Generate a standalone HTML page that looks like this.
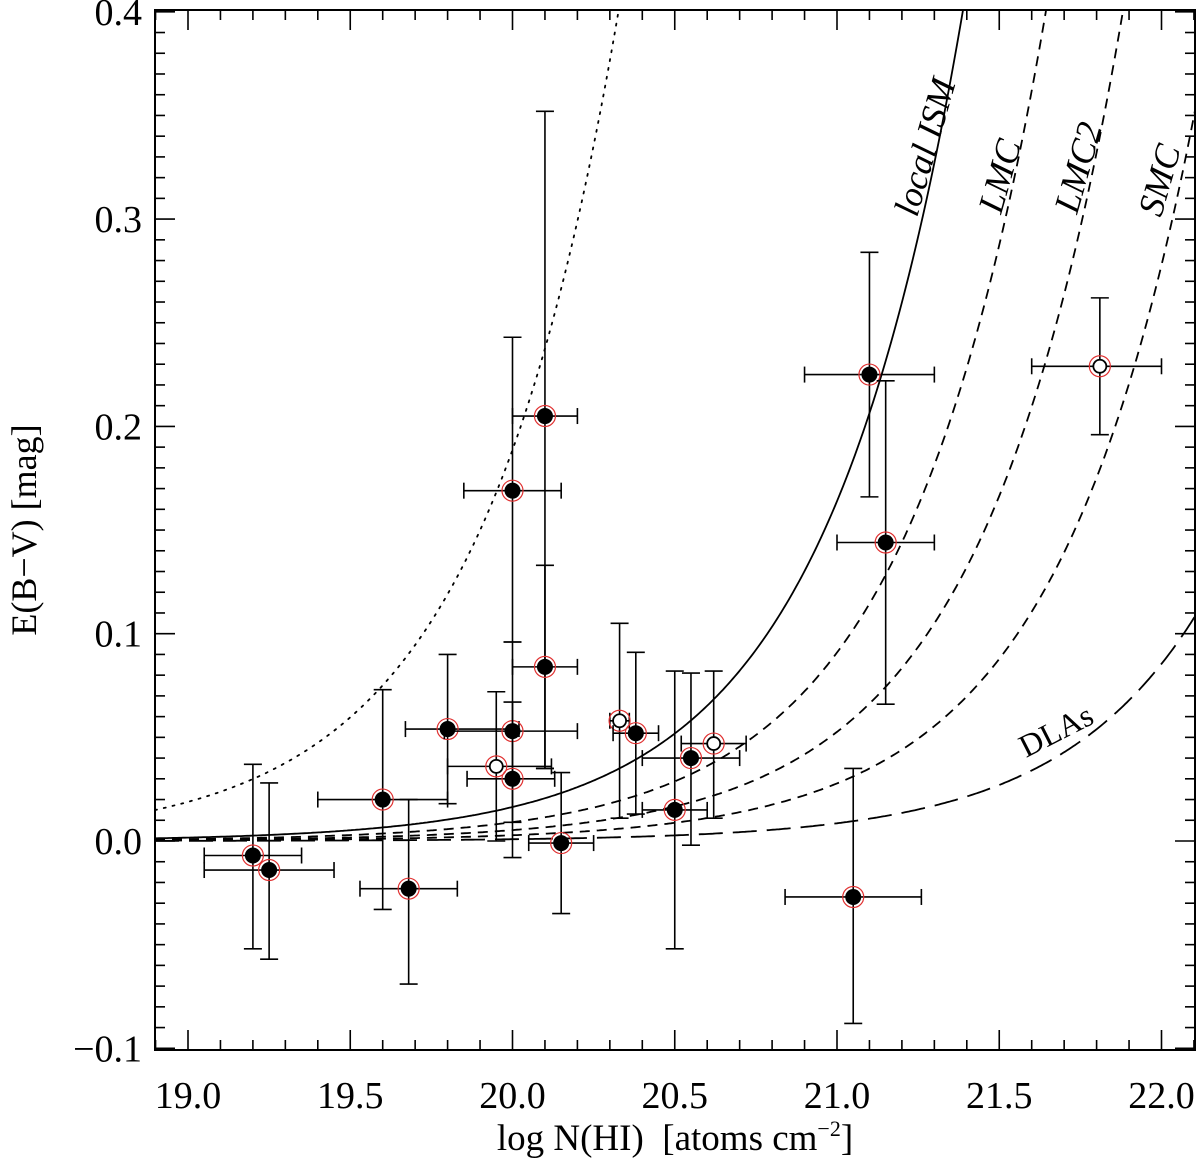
<!DOCTYPE html>
<html><head><meta charset="utf-8"><style>
html,body{margin:0;padding:0;background:#fff;}
svg{display:block;font-family:"Liberation Serif",serif;}
</style></head><body>
<svg id="chart" width="1200" height="1162" viewBox="0 0 1200 1162" xmlns="http://www.w3.org/2000/svg">
<g id="curves"></g>
<g id="points"></g>
<g id="axes"></g>
<text x="0" y="0" font-size="36" font-style="italic" transform="translate(917,218) rotate(-74)">local ISM</text>
<text x="0" y="0" font-size="36" font-style="italic" transform="translate(1001,215) rotate(-74)">LMC</text>
<text x="0" y="0" font-size="36" font-style="italic" transform="translate(1077,215) rotate(-74)">LMC2</text>
<text x="0" y="0" font-size="36" font-style="italic" transform="translate(1161,218) rotate(-74)">SMC</text>
<text x="0" y="0" font-size="32" transform="translate(1026,758) rotate(-27)">DLAs</text>
<text x="675" y="1150" font-size="37" text-anchor="middle">log N(HI)&#160;&#160;[atoms cm<tspan font-size="22" dy="-14">−2</tspan><tspan dy="14">]</tspan></text>
<text x="0" y="0" font-size="36" text-anchor="middle" transform="translate(36,530) rotate(-90)">E(B−V) [mag]</text>
</svg>
<script>
const xs = ['19.20','19.25','19.60','19.68','19.80','19.95','20.00','20.00','20.00','20.10','20.10','20.15','20.33','20.38','20.50','20.55','20.62','21.05','21.10','21.15','21.81'].map(Number);
const ys = [-0.007,-0.014,0.020,-0.023,0.054,0.036,0.169,0.053,0.030,0.205,0.084,-0.001,0.058,0.052,0.015,0.040,0.047,-0.027,0.225,0.144,0.229];
const xlo = [19.05,19.05,19.40,19.53,19.67,19.80,19.85,19.79,19.86,20.00,20.00,20.05,20.30,20.31,20.40,20.40,20.52,20.84,20.90,21.00,21.60];
const xhi = [19.35,19.45,19.80,19.83,20.02,20.12,20.15,20.20,20.13,20.20,20.20,20.25,20.36,20.45,20.60,20.70,20.72,21.26,21.30,21.30,22.00];
const ylo = [-0.052,-0.057,-0.033,-0.069,0.018,0.000,0.096,-0.008,0.009,0.035,0.035,-0.035,0.011,0.013,-0.052,-0.002,0.011,-0.088,0.166,0.066,0.196];
const yhi = [0.037,0.028,0.073,0.020,0.090,0.072,0.243,0.096,0.067,0.352,0.133,0.033,0.105,0.091,0.082,0.081,0.082,0.035,0.284,0.222,0.262];
const openPt = [0,0,0,0,0,1,0,0,0,0,0,0,1,0,0,0,1,0,0,0,1];
const curveNames = ['dotted','local-ism','lmc','lmc2','smc','dlas'];
const curveK = [5.3e20,6.1e21,1.1e22,1.9e22,3.6e22,1.17e23];
const curveDash = ['2,7','','10,7','10,7','10,7','24,10'];
const xTicks = ['19.0','19.5','20.0','20.5','21.0','21.5','22.0'];
const yTicks = ['−0.1','0.0','0.1','0.2','0.3','0.4'];

const L=155,R=1195,T=10,B=1050;
const X=v=>188+(v-19)*324.5;
const Y=v=>841-v*2073;
const NS='http://www.w3.org/2000/svg';
function mk(tag,attrs,parent){const e=document.createElementNS(NS,tag);for(const k in attrs)e.setAttribute(k,attrs[k]);parent.appendChild(e);return e;}

const cg=document.getElementById('curves');
const clip=mk('clipPath',{id:'cp'},document.getElementById('chart'));
mk('rect',{x:L,y:T,width:R-L,height:B-T},clip);
cg.setAttribute('clip-path','url(#cp)');
curveK.forEach((k,i)=>{
  let d='';
  for(let px=L;px<=R;px+=2){const lv=19+(px-188)/324.5;const e=Math.pow(10,lv)/k;let py=Y(e);if(py<-50)py=-50;d+=(d?'L':'M')+px+','+py.toFixed(1);}
  const p=mk('path',{d:d,fill:'none',stroke:'#000','stroke-width':1.8},cg);
  if(curveDash[i])p.setAttribute('stroke-dasharray',curveDash[i]);
  if(i===0)p.setAttribute('stroke-linecap','round');
  
  
});

const pg=document.getElementById('points');
xs.forEach((x,i)=>{
  const g=mk('g',{},pg);
  
  
  const cx=X(x),cy=Y(ys[i]);
  const a=X(xlo[i]),b=X(xhi[i]),c=Y(ylo[i]),d=Y(yhi[i]);
  const st={stroke:'#000','stroke-width':1.6};
  mk('line',Object.assign({x1:a,y1:cy,x2:b,y2:cy},st),g);
  mk('line',Object.assign({x1:a,y1:cy-8,x2:a,y2:cy+8},st),g);
  mk('line',Object.assign({x1:b,y1:cy-8,x2:b,y2:cy+8},st),g);
  mk('line',Object.assign({x1:cx,y1:c,x2:cx,y2:d},st),g);
  mk('line',Object.assign({x1:cx-9,y1:c,x2:cx+9,y2:c},st),g);
  mk('line',Object.assign({x1:cx-9,y1:d,x2:cx+9,y2:d},st),g);
  mk('circle',{cx:cx,cy:cy,r:10.5,fill:'none',stroke:'#e03030','stroke-width':1.2},g);
  if(openPt[i]) mk('circle',{cx:cx,cy:cy,r:6.5,fill:'#fff',stroke:'#000','stroke-width':1.8},g);
  else mk('circle',{cx:cx,cy:cy,r:8,fill:'#000'},g);
});

const ag=document.getElementById('axes');
const fr=mk('rect',{x:L,y:T,width:R-L,height:B-T,fill:'none',stroke:'#000','stroke-width':2},ag);


for(let j=-1;j<=32;j++){const v=19+j*0.1;const px=X(v);if(px<L||px>R)continue;const maj=(j%5===0);const len=maj?20:10;
  mk('line',{x1:px,y1:B,x2:px,y2:B-len,stroke:'#000','stroke-width':1.6},ag);
  mk('line',{x1:px,y1:T,x2:px,y2:T+len,stroke:'#000','stroke-width':1.6},ag);}
for(let j=-10;j<=40;j++){const py=Y(j*0.01);if(py<T||py>B)continue;const maj=(j%10===0);const len=maj?20:10;
  mk('line',{x1:L,y1:py,x2:L+len,y2:py,stroke:'#000','stroke-width':1.6},ag);
  mk('line',{x1:R,y1:py,x2:R-len,y2:py,stroke:'#000','stroke-width':1.6},ag);}
xTicks.forEach(t=>{const e=mk('text',{x:X(parseFloat(t)),y:1108,'font-size':38,'text-anchor':'middle'},ag);e.textContent=t;
  
  });
yTicks.forEach(t=>{const e=mk('text',{x:142,y:Y(parseFloat(t.replace('−','-')))+13,'font-size':38,'text-anchor':'end'},ag);e.textContent=t;
  
  });
</script>
</body></html>
